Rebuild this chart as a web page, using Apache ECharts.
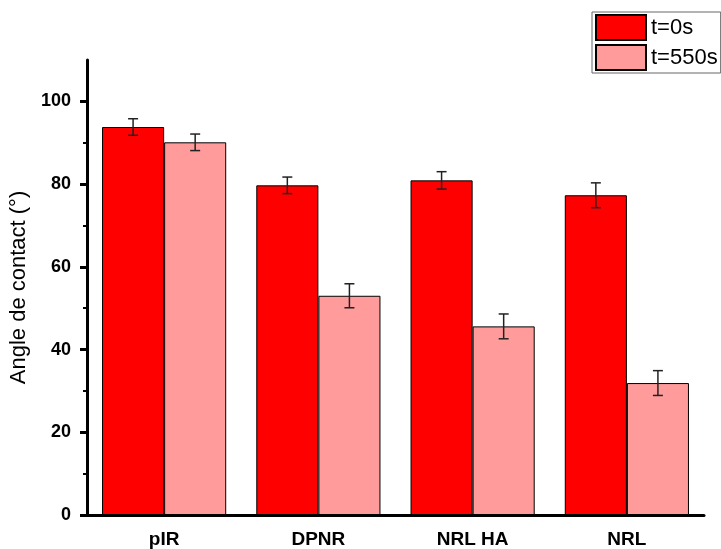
<!DOCTYPE html>
<html>
<head>
<meta charset="utf-8">
<script src="https://cdn.jsdelivr.net/npm/echarts@6/dist/echarts.min.js"></script>
<style>
html,body{margin:0;padding:0;background:#fff;}
#chart{width:721px;height:549px;}
</style>
</head>
<body>
<div id="chart"></div>
<script>
const categories = ['pIR', 'DPNR', 'NRL HA', 'NRL'];
const values0 = [93.8, 79.7, 80.9, 77.3];
const errors0 = [2.0, 2.0, 2.1, 3.0];
const values550 = [90.1, 53.0, 45.6, 31.9];
const errors550 = [2.0, 2.9, 3.0, 3.0];
const seriesNames = ['t=0s', 't=550s'];
const yMajorTicks = [0, 20, 40, 60, 80, 100];
const yMinorTicks = [10, 30, 50, 70, 90];

const GAP = 0.195;
const font = 'Arial, "Liberation Sans", sans-serif';

const errData = [];
values0.forEach((v, i) => errData.push([i, v, errors0[i], -1]));
values550.forEach((v, i) => errData.push([i, v, errors550[i], 1]));

const chart = echarts.init(document.getElementById('chart'));
chart.setOption({
  animation: false,
  backgroundColor: '#fff',
  grid: { left: 87, right: 17, top: 60, bottom: 34, containLabel: false, outerBoundsMode: 'none' },
  legend: {
    orient: 'vertical',
    left: 592, top: 12,
    padding: [2, 3, 2, 3],
    itemGap: 3,
    itemWidth: 50, itemHeight: 25,
    borderColor: '#666', borderWidth: 1,
    backgroundColor: '#fff',
    textStyle: { fontFamily: font, fontSize: 22, color: '#000', padding: [0, 0, 0, 0] },
    icon: 'rect',
    data: seriesNames
  },
  xAxis: [{
    type: 'category', data: categories, position: 'bottom',
    axisLine: { lineStyle: { color: '#000', width: 3 } },
    axisTick: { alignWithLabel: true, length: 7, lineStyle: { color: '#000', width: 3 } },
    axisLabel: { fontFamily: font, fontSize: 19, fontWeight: 'bold', color: '#000', margin: 15 }
  }, {
    type: 'category', data: categories, position: 'bottom',
    axisLine: { show: false },
    axisTick: { length: 4, lineStyle: { color: '#000', width: 2 } },
    axisLabel: { show: false }
  }],
  yAxis: [{
    type: 'value', min: 0, max: 110, interval: 10, position: 'left',
    name: 'Angle de contact (°)', nameLocation: 'middle', nameGap: 51,
    nameTextStyle: { fontFamily: font, fontSize: 22, color: '#000' },
    splitLine: { show: false },
    axisLine: { show: true, lineStyle: { color: '#000', width: 3 } },
    axisTick: { show: true, length: 7, customValues: yMajorTicks, lineStyle: { color: '#000', width: 3 } },
    axisLabel: { customValues: yMajorTicks, fontFamily: font, fontSize: 18, fontWeight: 'bold', color: '#000', margin: 16 }
  }, {
    type: 'value', min: 0, max: 110, interval: 10, position: 'left',
    splitLine: { show: false },
    axisLine: { show: false },
    axisTick: { show: true, length: 4, customValues: yMinorTicks, lineStyle: { color: '#000', width: 2 } },
    axisLabel: { show: false }
  }],
  series: [{
    name: seriesNames[0], type: 'bar', data: values0,
    barGap: '0%', barCategoryGap: (GAP * 100) + '%',
    itemStyle: { color: '#ff0000', borderColor: '#000', borderWidth: 1 }
  }, {
    name: seriesNames[1], type: 'bar', data: values550,
    barGap: '0%', barCategoryGap: (GAP * 100) + '%',
    itemStyle: { color: '#ff9b9b', borderColor: '#000', borderWidth: 1 }
  }, {
    type: 'custom', data: errData, z: 10,
    renderItem: function (params, api) {
      const cat = api.value(0), val = api.value(1), err = api.value(2), side = api.value(3);
      const band = api.size([1, 0])[0];
      const barW = band * (1 - GAP) / 2;
      const cx = api.coord([cat, val])[0] + side * barW / 2;
      const top = api.coord([cat, val + err])[1];
      const bot = api.coord([cat, val - err])[1];
      const hw = 5;
      const style = { stroke: '#222', lineWidth: 1.5 };
      return {
        type: 'group',
        children: [
          { type: 'line', shape: { x1: cx, y1: top, x2: cx, y2: bot }, style: style },
          { type: 'line', shape: { x1: cx - hw, y1: top, x2: cx + hw, y2: top }, style: style },
          { type: 'line', shape: { x1: cx - hw, y1: bot, x2: cx + hw, y2: bot }, style: style }
        ]
      };
    }
  }]
});
</script>
</body>
</html>
